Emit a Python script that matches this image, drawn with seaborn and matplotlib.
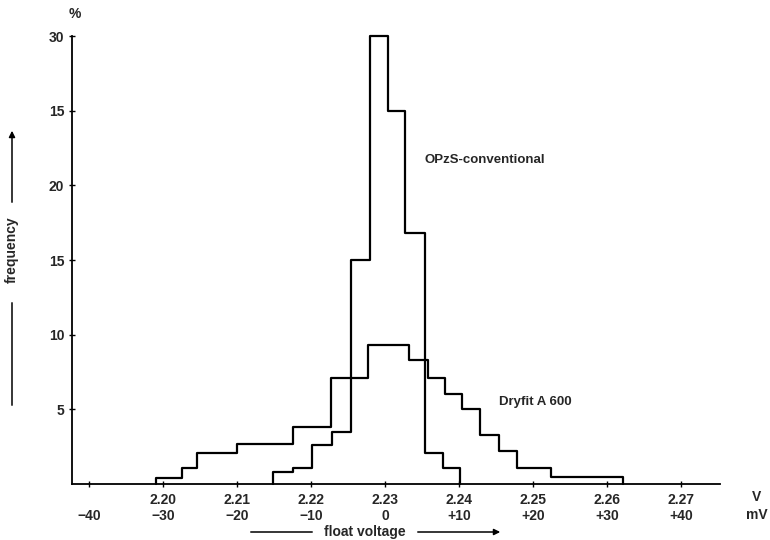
import matplotlib
matplotlib.use("Agg")
import matplotlib.pyplot as plt
import numpy as np
import pandas as pd
import seaborn as sns

# bin edges in mV (deviation from 2.23 V) and frequencies in %
opzs_edges = [-15.1, -12.4, -9.9, -7.2, -4.6, -2.0, 0.4, 2.7, 5.4, 7.8, 10.1]
opzs_freq = [0.8, 1.1, 2.6, 3.5, 15.0, 30.0, 25.0, 16.8, 2.1, 1.1]

dryfit_edges = [-30.9, -27.4, -25.4, -20.0, -12.4, -7.3, -2.3, 3.2, 5.8, 8.1,
                10.4, 12.8, 15.4, 17.8, 22.4, 32.2]
dryfit_freq = [0.4, 1.1, 2.1, 2.7, 3.8, 7.1, 9.3, 8.3, 7.1, 6.0, 5.0, 3.3, 2.2, 1.1, 0.5]

mv_ticks = [-40, -30, -20, -10, 0, 10, 20, 30, 40]
volt_labels = ["", "2.20", "2.21", "2.22", "2.23", "2.24", "2.25", "2.26", "2.27"]
mv_labels = ["\u221240", "\u221230", "\u221220", "\u221210", "0", "+10", "+20", "+30", "+40"]
y_ticks = [5, 10, 15, 20, 25, 30]
y_labels = ["5", "10", "15", "20", "15", "30"]  # as printed in the original

sns.set_theme(style="white")
plt.rcParams["font.family"] = ["Liberation Sans", "DejaVu Sans"]
plt.rcParams["font.weight"] = "bold"

W, H = 770, 540
fig = plt.figure(figsize=(W / 100, H / 100), dpi=100)
ax = fig.add_axes([72 / W, 1 - 484 / H, (720 - 72) / W, (484 - 36) / H])


def outline(edges, freq):
    # closed step outline: up from the baseline at the first edge, down at the last
    x = [edges[0]] + list(edges)
    y = [0] + list(freq) + [0]
    return pd.DataFrame({"mv": x, "pct": y})


for edges, freq in [(dryfit_edges, dryfit_freq), (opzs_edges, opzs_freq)]:
    sns.lineplot(data=outline(edges, freq), x="mv", y="pct", estimator=None,
                 sort=False, drawstyle="steps-post", color="black", linewidth=1.6,
                 clip_on=False, ax=ax)

ax.set_xlim(-42.3, 45.3)
ax.set_ylim(0, 30)
ax.set_xlabel("")
ax.set_ylabel("")

sns.despine(ax=ax)
for s in ["left", "bottom"]:
    ax.spines[s].set_color("black")
    ax.spines[s].set_linewidth(1.3)

ax.set_xticks(mv_ticks)
ax.set_xticklabels([f"{v}\n{m}" for v, m in zip(volt_labels, mv_labels)],
                   fontsize=10, fontweight="bold")
for lbl in ax.get_xticklabels():
    lbl.set_linespacing(1.2)
ax.set_yticks(y_ticks)
ax.set_yticklabels(y_labels, fontsize=10, fontweight="bold")
ax.tick_params(axis="both", direction="inout", length=5, width=1, color="black",
               bottom=True, left=True)
ax.tick_params(axis="x", pad=4)
ax.tick_params(axis="y", pad=3)

ax.text(5.4, 21.7, "OPzS-conventional", fontsize=9.5, fontweight="bold", va="center")
ax.text(15.4, 5.5, "Dryfit A 600", fontsize=9.5, fontweight="bold", va="center")


def fp(x, y):
    return (x / W, 1 - y / H)


fig.text(*fp(75, 14), "%", fontsize=10, fontweight="bold", ha="center", va="center")
fig.text(*fp(757, 497), "V", fontsize=10, fontweight="bold", ha="center", va="center")
fig.text(*fp(757, 515), "mV", fontsize=10, fontweight="bold", ha="center", va="center")

# axis captions with arrows
fig.text(*fp(365, 532), "float voltage", fontsize=10, fontweight="bold",
         ha="center", va="center")
ax.annotate("", xy=fp(315, 532), xytext=fp(248, 532), xycoords="figure fraction",
            arrowprops=dict(arrowstyle="-", lw=1.1, color="black"))
ax.annotate("", xy=fp(503, 532), xytext=fp(415, 532), xycoords="figure fraction",
            arrowprops=dict(arrowstyle="-|>", lw=1.1, color="black",
                            mutation_scale=9))

fig.text(*fp(12, 250), "frequency", fontsize=10, fontweight="bold", rotation=90,
         ha="center", va="center")
ax.annotate("", xy=fp(12, 300), xytext=fp(12, 408), xycoords="figure fraction",
            arrowprops=dict(arrowstyle="-", lw=1.1, color="black"))
ax.annotate("", xy=fp(12, 128), xytext=fp(12, 205), xycoords="figure fraction",
            arrowprops=dict(arrowstyle="-|>", lw=1.1, color="black",
                            mutation_scale=9))

fig.savefig("out.png", dpi=100)
